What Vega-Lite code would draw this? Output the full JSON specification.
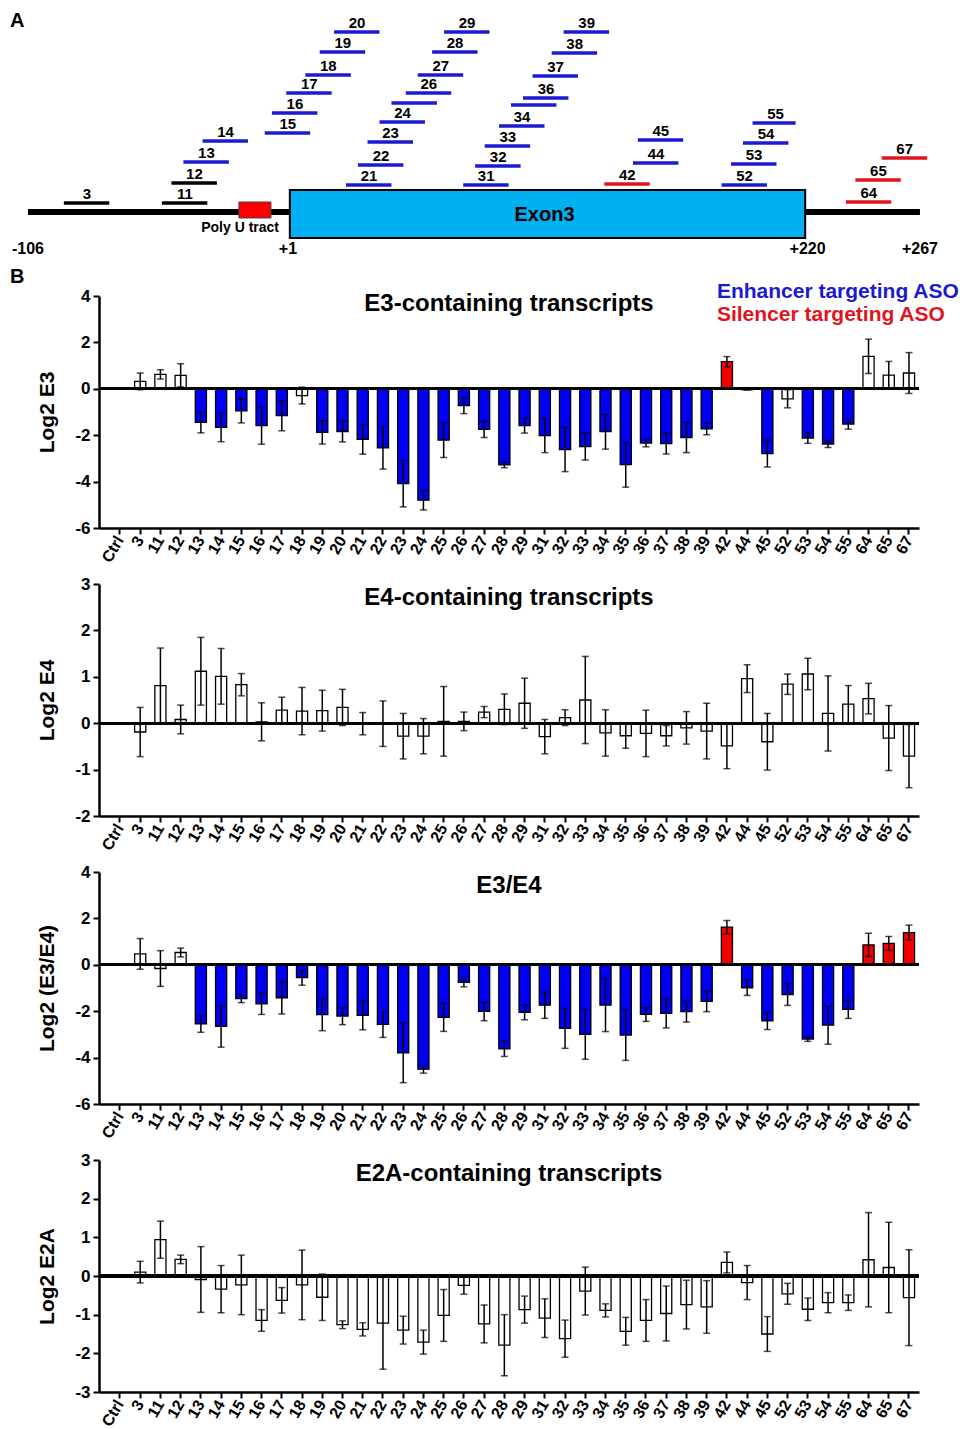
{
  "$schema": "https://vega.github.io/schema/vega-lite/v6.json",
  "padding": {"left": 10, "top": 0, "right": 0, "bottom": 5},
  "background": "white",
  "bounds": "flush",
  "spacing": 56,
  "config": {
    "font": "Liberation Sans",
    "view": {"stroke": null},
    "axis": {"domainColor": "black", "domainWidth": 2.5, "tickColor": "black", "tickWidth": 2, "tickSize": 6, "labelFont": "Liberation Sans", "labelFontWeight": "bold", "labelColor": "black", "titleFont": "Liberation Sans", "titleFontWeight": "bold", "titleColor": "black", "grid": false, "labelOverlap": false},
    "axisY": {"labelFontSize": 17, "titleFontSize": 21, "titlePadding": 17, "labelPadding": 3, "labelExpr": "replace(datum.label, '\u2212', '-')"},
    "axisX": {"labelFontSize": 16, "labelAngle": -60, "labelPadding": 3},
    "title": {"font": "Liberation Sans", "fontSize": 24, "fontWeight": "bold", "color": "black", "offset": -35, "baseline": "middle", "frame": "group", "anchor": "middle"}
  },
  "datasets": {
    "aso": [
      {"x": -91, "x2": -72, "h": 9, "k": "open", "label": "3"},
      {"x": -50, "x2": -31, "h": 9, "k": "open", "label": "11"},
      {"x": -46, "x2": -27, "h": 29, "k": "open", "label": "12"},
      {"x": -41, "x2": -22, "h": 50, "k": "enh", "label": "13"},
      {"x": -33, "x2": -14, "h": 71, "k": "enh", "label": "14"},
      {"x": -7, "x2": 12, "h": 79, "k": "enh", "label": "15"},
      {"x": -4, "x2": 15, "h": 99, "k": "enh", "label": "16"},
      {"x": 2, "x2": 21, "h": 119, "k": "enh", "label": "17"},
      {"x": 10, "x2": 29, "h": 137, "k": "enh", "label": "18"},
      {"x": 16, "x2": 35, "h": 160, "k": "enh", "label": "19"},
      {"x": 22, "x2": 41, "h": 180, "k": "enh", "label": "20"},
      {"x": 27, "x2": 46, "h": 27, "k": "enh", "label": "21"},
      {"x": 32, "x2": 51, "h": 47, "k": "enh", "label": "22"},
      {"x": 36, "x2": 55, "h": 70, "k": "enh", "label": "23"},
      {"x": 41, "x2": 60, "h": 90, "k": "enh", "label": "24"},
      {"x": 46, "x2": 65, "h": 109, "k": "enh", "label": ""},
      {"x": 52, "x2": 71, "h": 119, "k": "enh", "label": "26"},
      {"x": 57, "x2": 76, "h": 137, "k": "enh", "label": "27"},
      {"x": 63, "x2": 82, "h": 160, "k": "enh", "label": "28"},
      {"x": 68, "x2": 87, "h": 180, "k": "enh", "label": "29"},
      {"x": 76, "x2": 95, "h": 27, "k": "enh", "label": "31"},
      {"x": 81, "x2": 100, "h": 46, "k": "enh", "label": "32"},
      {"x": 85, "x2": 104, "h": 66, "k": "enh", "label": "33"},
      {"x": 91, "x2": 110, "h": 86, "k": "enh", "label": "34"},
      {"x": 96, "x2": 115, "h": 107, "k": "enh", "label": ""},
      {"x": 101, "x2": 120, "h": 114, "k": "enh", "label": "36"},
      {"x": 105, "x2": 124, "h": 136, "k": "enh", "label": "37"},
      {"x": 113, "x2": 132, "h": 159, "k": "enh", "label": "38"},
      {"x": 118, "x2": 137, "h": 180, "k": "enh", "label": "39"},
      {"x": 135, "x2": 154, "h": 28, "k": "sil", "label": "42"},
      {"x": 147, "x2": 166, "h": 49, "k": "enh", "label": "44"},
      {"x": 149, "x2": 168, "h": 72, "k": "enh", "label": "45"},
      {"x": 184, "x2": 203, "h": 27, "k": "enh", "label": "52"},
      {"x": 188, "x2": 207, "h": 48, "k": "enh", "label": "53"},
      {"x": 193, "x2": 212, "h": 69, "k": "enh", "label": "54"},
      {"x": 197, "x2": 215, "h": 89, "k": "enh", "label": "55"},
      {"x": 236, "x2": 255, "h": 10, "k": "sil", "label": "64"},
      {"x": 240, "x2": 259, "h": 32, "k": "sil", "label": "65"},
      {"x": 251, "x2": 270, "h": 54, "k": "sil", "label": "67"}
    ],
    "e3": [
      {"c": "Ctrl", "v": 0, "e": 0, "k": "open"},
      {"c": "3", "v": 0.32, "e": 0.36, "k": "open"},
      {"c": "11", "v": 0.62, "e": 0.2, "k": "open"},
      {"c": "12", "v": 0.58, "e": 0.5, "k": "open"},
      {"c": "13", "v": -1.45, "e": 0.45, "k": "enh"},
      {"c": "14", "v": -1.66, "e": 0.62, "k": "enh"},
      {"c": "15", "v": -0.95, "e": 0.52, "k": "enh"},
      {"c": "16", "v": -1.59, "e": 0.8, "k": "enh"},
      {"c": "17", "v": -1.16, "e": 0.65, "k": "enh"},
      {"c": "18", "v": -0.29, "e": 0.36, "k": "open"},
      {"c": "19", "v": -1.88, "e": 0.5, "k": "enh"},
      {"c": "20", "v": -1.84, "e": 0.45, "k": "enh"},
      {"c": "21", "v": -2.18, "e": 0.64, "k": "enh"},
      {"c": "22", "v": -2.54, "e": 0.92, "k": "enh"},
      {"c": "23", "v": -4.09, "e": 1.0, "k": "enh"},
      {"c": "24", "v": -4.8, "e": 0.42, "k": "enh"},
      {"c": "25", "v": -2.21, "e": 0.75, "k": "enh"},
      {"c": "26", "v": -0.72, "e": 0.35, "k": "enh"},
      {"c": "27", "v": -1.75, "e": 0.35, "k": "enh"},
      {"c": "28", "v": -3.28, "e": 0.12, "k": "enh"},
      {"c": "29", "v": -1.59, "e": 0.32, "k": "enh"},
      {"c": "31", "v": -2.02, "e": 0.73, "k": "enh"},
      {"c": "32", "v": -2.62, "e": 0.95, "k": "enh"},
      {"c": "33", "v": -2.49, "e": 0.58, "k": "enh"},
      {"c": "34", "v": -1.85, "e": 0.75, "k": "enh"},
      {"c": "35", "v": -3.27, "e": 0.97, "k": "enh"},
      {"c": "36", "v": -2.34, "e": 0.16, "k": "enh"},
      {"c": "37", "v": -2.36, "e": 0.45, "k": "enh"},
      {"c": "38", "v": -2.1, "e": 0.65, "k": "enh"},
      {"c": "39", "v": -1.73, "e": 0.25, "k": "enh"},
      {"c": "42", "v": 1.17, "e": 0.22, "k": "sil"},
      {"c": "44", "v": -0.04, "e": 0, "k": "enh"},
      {"c": "45", "v": -2.79, "e": 0.58, "k": "enh"},
      {"c": "52", "v": -0.43, "e": 0.39, "k": "open"},
      {"c": "53", "v": -2.12, "e": 0.23, "k": "enh"},
      {"c": "54", "v": -2.38, "e": 0.15, "k": "enh"},
      {"c": "55", "v": -1.52, "e": 0.22, "k": "enh"},
      {"c": "64", "v": 1.4, "e": 0.74, "k": "open"},
      {"c": "65", "v": 0.59, "e": 0.59, "k": "open"},
      {"c": "67", "v": 0.68, "e": 0.88, "k": "open"}
    ],
    "e4": [
      {"c": "Ctrl", "v": 0, "e": 0, "k": "open"},
      {"c": "3", "v": -0.19, "e": 0.53, "k": "open"},
      {"c": "11", "v": 0.81, "e": 0.81, "k": "open"},
      {"c": "12", "v": 0.08, "e": 0.31, "k": "open"},
      {"c": "13", "v": 1.12, "e": 0.73, "k": "open"},
      {"c": "14", "v": 1.01, "e": 0.6, "k": "open"},
      {"c": "15", "v": 0.83, "e": 0.24, "k": "open"},
      {"c": "16", "v": 0.03, "e": 0.41, "k": "open"},
      {"c": "17", "v": 0.28, "e": 0.28, "k": "open"},
      {"c": "18", "v": 0.26, "e": 0.51, "k": "open"},
      {"c": "19", "v": 0.27, "e": 0.44, "k": "open"},
      {"c": "20", "v": 0.34, "e": 0.39, "k": "open"},
      {"c": "21", "v": -0.01, "e": 0.24, "k": "open"},
      {"c": "22", "v": -0.01, "e": 0.49, "k": "open"},
      {"c": "23", "v": -0.28, "e": 0.49, "k": "open"},
      {"c": "24", "v": -0.28, "e": 0.38, "k": "open"},
      {"c": "25", "v": 0.04, "e": 0.75, "k": "open"},
      {"c": "26", "v": 0.04, "e": 0.2, "k": "open"},
      {"c": "27", "v": 0.24, "e": 0.12, "k": "open"},
      {"c": "28", "v": 0.3, "e": 0.33, "k": "open"},
      {"c": "29", "v": 0.43, "e": 0.54, "k": "open"},
      {"c": "31", "v": -0.29, "e": 0.37, "k": "open"},
      {"c": "32", "v": 0.12, "e": 0.17, "k": "open"},
      {"c": "33", "v": 0.5, "e": 0.94, "k": "open"},
      {"c": "34", "v": -0.21, "e": 0.5, "k": "open"},
      {"c": "35", "v": -0.27, "e": 0.27, "k": "open"},
      {"c": "36", "v": -0.22, "e": 0.5, "k": "open"},
      {"c": "37", "v": -0.27, "e": 0.22, "k": "open"},
      {"c": "38", "v": -0.1, "e": 0.35, "k": "open"},
      {"c": "39", "v": -0.17, "e": 0.6, "k": "open"},
      {"c": "42", "v": -0.49, "e": 0.49, "k": "open"},
      {"c": "44", "v": 0.96, "e": 0.3, "k": "open"},
      {"c": "45", "v": -0.4, "e": 0.61, "k": "open"},
      {"c": "52", "v": 0.84, "e": 0.22, "k": "open"},
      {"c": "53", "v": 1.06, "e": 0.34, "k": "open"},
      {"c": "54", "v": 0.21, "e": 0.81, "k": "open"},
      {"c": "55", "v": 0.41, "e": 0.4, "k": "open"},
      {"c": "64", "v": 0.53, "e": 0.33, "k": "open"},
      {"c": "65", "v": -0.32, "e": 0.7, "k": "open"},
      {"c": "67", "v": -0.71, "e": 0.68, "k": "open"}
    ],
    "ratio": [
      {"c": "Ctrl", "v": 0, "e": 0, "k": "open"},
      {"c": "3", "v": 0.47, "e": 0.66, "k": "open"},
      {"c": "11", "v": -0.16, "e": 0.77, "k": "open"},
      {"c": "12", "v": 0.53, "e": 0.19, "k": "open"},
      {"c": "13", "v": -2.55, "e": 0.36, "k": "enh"},
      {"c": "14", "v": -2.65, "e": 0.9, "k": "enh"},
      {"c": "15", "v": -1.46, "e": 0.17, "k": "enh"},
      {"c": "16", "v": -1.68, "e": 0.46, "k": "enh"},
      {"c": "17", "v": -1.42, "e": 0.7, "k": "enh"},
      {"c": "18", "v": -0.55, "e": 0.33, "k": "enh"},
      {"c": "19", "v": -2.15, "e": 0.69, "k": "enh"},
      {"c": "20", "v": -2.21, "e": 0.37, "k": "enh"},
      {"c": "21", "v": -2.18, "e": 0.62, "k": "enh"},
      {"c": "22", "v": -2.57, "e": 0.56, "k": "enh"},
      {"c": "23", "v": -3.8, "e": 1.28, "k": "enh"},
      {"c": "24", "v": -4.5, "e": 0.17, "k": "enh"},
      {"c": "25", "v": -2.27, "e": 0.6, "k": "enh"},
      {"c": "26", "v": -0.76, "e": 0.19, "k": "enh"},
      {"c": "27", "v": -2.01, "e": 0.4, "k": "enh"},
      {"c": "28", "v": -3.62, "e": 0.33, "k": "enh"},
      {"c": "29", "v": -2.05, "e": 0.32, "k": "enh"},
      {"c": "31", "v": -1.74, "e": 0.57, "k": "enh"},
      {"c": "32", "v": -2.74, "e": 0.86, "k": "enh"},
      {"c": "33", "v": -3.0, "e": 1.07, "k": "enh"},
      {"c": "34", "v": -1.74, "e": 1.14, "k": "enh"},
      {"c": "35", "v": -3.03, "e": 1.09, "k": "enh"},
      {"c": "36", "v": -2.14, "e": 0.3, "k": "enh"},
      {"c": "37", "v": -2.09, "e": 0.63, "k": "enh"},
      {"c": "38", "v": -2.02, "e": 0.45, "k": "enh"},
      {"c": "39", "v": -1.58, "e": 0.44, "k": "enh"},
      {"c": "42", "v": 1.62, "e": 0.29, "k": "sil"},
      {"c": "44", "v": -0.99, "e": 0.33, "k": "enh"},
      {"c": "45", "v": -2.42, "e": 0.37, "k": "enh"},
      {"c": "52", "v": -1.28, "e": 0.47, "k": "enh"},
      {"c": "53", "v": -3.2, "e": 0.1, "k": "enh"},
      {"c": "54", "v": -2.6, "e": 0.82, "k": "enh"},
      {"c": "55", "v": -1.92, "e": 0.39, "k": "enh"},
      {"c": "64", "v": 0.86, "e": 0.5, "k": "sil"},
      {"c": "65", "v": 0.92, "e": 0.3, "k": "sil"},
      {"c": "67", "v": 1.39, "e": 0.32, "k": "sil"}
    ],
    "e2a": [
      {"c": "Ctrl", "v": 0, "e": 0, "k": "open"},
      {"c": "3", "v": 0.1, "e": 0.28, "k": "open"},
      {"c": "11", "v": 0.94, "e": 0.48, "k": "open"},
      {"c": "12", "v": 0.43, "e": 0.11, "k": "open"},
      {"c": "13", "v": -0.09, "e": 0.85, "k": "open"},
      {"c": "14", "v": -0.34, "e": 0.61, "k": "open"},
      {"c": "15", "v": -0.23, "e": 0.77, "k": "open"},
      {"c": "16", "v": -1.15, "e": 0.28, "k": "open"},
      {"c": "17", "v": -0.63, "e": 0.33, "k": "open"},
      {"c": "18", "v": -0.23, "e": 0.9, "k": "open"},
      {"c": "19", "v": -0.55, "e": 0.6, "k": "open"},
      {"c": "20", "v": -1.26, "e": 0.1, "k": "open"},
      {"c": "21", "v": -1.38, "e": 0.17, "k": "open"},
      {"c": "22", "v": -1.22, "e": 1.19, "k": "open"},
      {"c": "23", "v": -1.4, "e": 0.36, "k": "open"},
      {"c": "24", "v": -1.71, "e": 0.31, "k": "open"},
      {"c": "25", "v": -1.02, "e": 0.67, "k": "open"},
      {"c": "26", "v": -0.24, "e": 0.23, "k": "open"},
      {"c": "27", "v": -1.24, "e": 0.49, "k": "open"},
      {"c": "28", "v": -1.79, "e": 0.79, "k": "open"},
      {"c": "29", "v": -0.87, "e": 0.35, "k": "open"},
      {"c": "31", "v": -1.09, "e": 0.5, "k": "open"},
      {"c": "32", "v": -1.62, "e": 0.48, "k": "open"},
      {"c": "33", "v": -0.39, "e": 0.62, "k": "open"},
      {"c": "34", "v": -0.89, "e": 0.17, "k": "open"},
      {"c": "35", "v": -1.43, "e": 0.36, "k": "open"},
      {"c": "36", "v": -1.15, "e": 0.54, "k": "open"},
      {"c": "37", "v": -0.97, "e": 0.71, "k": "open"},
      {"c": "38", "v": -0.74, "e": 0.63, "k": "open"},
      {"c": "39", "v": -0.8, "e": 0.68, "k": "open"},
      {"c": "42", "v": 0.35, "e": 0.27, "k": "open"},
      {"c": "44", "v": -0.17, "e": 0.44, "k": "open"},
      {"c": "45", "v": -1.5, "e": 0.45, "k": "open"},
      {"c": "52", "v": -0.46, "e": 0.27, "k": "open"},
      {"c": "53", "v": -0.86, "e": 0.29, "k": "open"},
      {"c": "54", "v": -0.69, "e": 0.26, "k": "open"},
      {"c": "55", "v": -0.69, "e": 0.2, "k": "open"},
      {"c": "64", "v": 0.42, "e": 1.22, "k": "open"},
      {"c": "65", "v": 0.22, "e": 1.17, "k": "open"},
      {"c": "67", "v": -0.56, "e": 1.24, "k": "open"}
    ]
  },
  "vconcat": [
    {
      "width": 820,
      "height": 240,
      "encoding": {
        "x": {"field": "x", "type": "quantitative", "scale": {"domain": [-76.3, 266.6], "nice": false, "zero": false}, "axis": null},
        "y": {"field": "h", "type": "quantitative", "scale": {"domain": [-28, 212], "nice": false, "zero": false}, "axis": null}
      },
      "layer": [
        {"data": {"values": [{"x": -106, "x2": 267, "h": 0}]}, "mark": {"type": "rule", "strokeWidth": 6, "color": "black"}, "encoding": {"x2": {"field": "x2"}}},
        {"data": {"values": [{"x": 3.5, "x2": 219, "h": 22, "h2": -26}]}, "mark": {"type": "rect", "fill": "#00b0f0", "stroke": "black", "strokeWidth": 2}, "encoding": {"x2": {"field": "x2"}, "y2": {"field": "h2"}}},
        {"data": {"values": [{"x": -17.8, "x2": -4.4, "h": 10, "h2": -6}]}, "mark": {"type": "rect", "fill": "#ff0000", "stroke": "#444444", "strokeWidth": 1}, "encoding": {"x2": {"field": "x2"}, "y2": {"field": "h2"}}},
        {"data": {"name": "aso"}, "mark": {"type": "rule", "strokeWidth": 3.5, "strokeCap": "butt"}, "encoding": {"x2": {"field": "x2"}, "color": {"field": "k", "type": "nominal", "scale": {"domain": ["open", "enh", "sil"], "range": ["black", "#1a1ad2", "#e0141c"]}, "legend": null}}},
        {"data": {"name": "aso"}, "mark": {"type": "text", "fontSize": 15, "fontWeight": "bold", "font": "Liberation Sans", "color": "black", "align": "center", "baseline": "alphabetic", "dx": 23, "dy": -4}, "encoding": {"text": {"field": "label"}}},
        {"data": {"values": [{"x": 110, "h": -3, "t": "Exon3"}]}, "mark": {"type": "text", "fontSize": 20, "fontWeight": "bold", "font": "Liberation Sans", "color": "black", "baseline": "middle"}, "encoding": {"text": {"field": "t"}}},
        {"data": {"values": [{"x": -17.3, "h": -16, "t": "Poly U tract"}]}, "mark": {"type": "text", "fontSize": 14, "fontWeight": "bold", "font": "Liberation Sans", "color": "black", "baseline": "middle"}, "encoding": {"text": {"field": "t"}}},
        {"data": {"values": [{"x": -106, "h": -37, "t": "-106"}, {"x": 2.7, "h": -37, "t": "+1"}, {"x": 220, "h": -37, "t": "+220"}, {"x": 267, "h": -37, "t": "+267"}]}, "mark": {"type": "text", "fontSize": 16, "fontWeight": "bold", "font": "Liberation Sans", "color": "black", "baseline": "middle"}, "encoding": {"text": {"field": "t"}}},
        {"data": {"values": [{"x": -113.5, "h": 191, "t": "A"}, {"x": -113.5, "h": -65, "t": "B"}]}, "mark": {"type": "text", "fontSize": 20, "fontWeight": "bold", "font": "Liberation Sans", "color": "black", "align": "left", "baseline": "middle"}, "encoding": {"text": {"field": "t"}}}
      ]
    },
    {
      "width": 820,
      "height": 232,
      "title": {"text": "E3-containing transcripts"},
      "data": {"name": "e3"},
      "encoding": {
        "x": {"field": "c", "type": "nominal", "title": null, "scale": {"domain": ["Ctrl","3","11","12","13","14","15","16","17","18","19","20","21","22","23","24","25","26","27","28","29","31","32","33","34","35","36","37","38","39","42","44","45","52","53","54","55","64","65","67"], "paddingInner": 0.45, "paddingOuter": 0.49, "align": 0.776}}
      },
      "layer": [
        {"mark": {"type": "bar", "stroke": "black", "strokeWidth": 1.3}, "encoding": {"y": {"field": "v", "type": "quantitative", "title": "Log2 E3", "scale": {"domain": [-6, 4], "nice": false}, "axis": {"values": [-6, -4, -2, 0, 2, 4]}}, "fill": {"field": "k", "type": "nominal", "scale": {"domain": ["open", "enh", "sil"], "range": ["white", "#0000f5", "#f50000"]}, "legend": null}}},
        {"mark": {"type": "errorbar", "ticks": true, "size": 7, "thickness": 1.5, "color": "black"}, "encoding": {"y": {"field": "v", "type": "quantitative", "title": "Log2 E3", "axis": {"values": [-6, -4, -2, 0, 2, 4]}}, "yError": {"field": "e"}}},
        {"mark": {"type": "rule", "strokeWidth": 2.5, "color": "black"}, "encoding": {"x": null, "y": {"datum": 0, "axis": {"values": [-6, -4, -2, 0, 2, 4]}}}},
        {"data": {"values": [{"t": "Enhancer targeting ASO", "k": "enh", "y": 4.17}, {"t": "Silencer targeting ASO", "k": "sil", "y": 3.2}]}, "mark": {"type": "text", "fontSize": 21, "fontWeight": "bold", "font": "Liberation Sans", "align": "left", "baseline": "middle", "dx": -10}, "encoding": {"x": {"datum": "42"}, "y": {"field": "y", "type": "quantitative", "axis": {"values": [-6, -4, -2, 0, 2, 4]}}, "text": {"field": "t"}, "color": {"field": "k", "type": "nominal", "scale": {"domain": ["open", "enh", "sil"], "range": ["black", "#1a1ad2", "#e0141c"]}, "legend": null}}}
      ]
    },
    {
      "width": 820,
      "height": 232,
      "title": {"text": "E4-containing transcripts"},
      "data": {"name": "e4"},
      "encoding": {
        "x": {"field": "c", "type": "nominal", "title": null, "scale": {"domain": ["Ctrl","3","11","12","13","14","15","16","17","18","19","20","21","22","23","24","25","26","27","28","29","31","32","33","34","35","36","37","38","39","42","44","45","52","53","54","55","64","65","67"], "paddingInner": 0.45, "paddingOuter": 0.49, "align": 0.776}}
      },
      "layer": [
        {"mark": {"type": "bar", "stroke": "black", "strokeWidth": 1.3}, "encoding": {"y": {"field": "v", "type": "quantitative", "title": "Log2 E4", "scale": {"domain": [-2, 3], "nice": false}, "axis": {"values": [-2, -1, 0, 1, 2, 3]}}, "fill": {"field": "k", "type": "nominal", "scale": {"domain": ["open", "enh", "sil"], "range": ["white", "#0000f5", "#f50000"]}, "legend": null}}},
        {"mark": {"type": "errorbar", "ticks": true, "size": 7, "thickness": 1.5, "color": "black"}, "encoding": {"y": {"field": "v", "type": "quantitative", "title": "Log2 E4", "axis": {"values": [-2, -1, 0, 1, 2, 3]}}, "yError": {"field": "e"}}},
        {"mark": {"type": "rule", "strokeWidth": 2.5, "color": "black"}, "encoding": {"x": null, "y": {"datum": 0, "axis": {"values": [-2, -1, 0, 1, 2, 3]}}}}
      ]
    },
    {
      "width": 820,
      "height": 232,
      "title": {"text": "E3/E4"},
      "data": {"name": "ratio"},
      "encoding": {
        "x": {"field": "c", "type": "nominal", "title": null, "scale": {"domain": ["Ctrl","3","11","12","13","14","15","16","17","18","19","20","21","22","23","24","25","26","27","28","29","31","32","33","34","35","36","37","38","39","42","44","45","52","53","54","55","64","65","67"], "paddingInner": 0.45, "paddingOuter": 0.49, "align": 0.776}}
      },
      "layer": [
        {"mark": {"type": "bar", "stroke": "black", "strokeWidth": 1.3}, "encoding": {"y": {"field": "v", "type": "quantitative", "title": "Log2 (E3/E4)", "scale": {"domain": [-6, 4], "nice": false}, "axis": {"values": [-6, -4, -2, 0, 2, 4]}}, "fill": {"field": "k", "type": "nominal", "scale": {"domain": ["open", "enh", "sil"], "range": ["white", "#0000f5", "#f50000"]}, "legend": null}}},
        {"mark": {"type": "errorbar", "ticks": true, "size": 7, "thickness": 1.5, "color": "black"}, "encoding": {"y": {"field": "v", "type": "quantitative", "title": "Log2 (E3/E4)", "axis": {"values": [-6, -4, -2, 0, 2, 4]}}, "yError": {"field": "e"}}},
        {"mark": {"type": "rule", "strokeWidth": 2.5, "color": "black"}, "encoding": {"x": null, "y": {"datum": 0, "axis": {"values": [-6, -4, -2, 0, 2, 4]}}}}
      ]
    },
    {
      "width": 820,
      "height": 232,
      "title": {"text": "E2A-containing transcripts"},
      "data": {"name": "e2a"},
      "encoding": {
        "x": {"field": "c", "type": "nominal", "title": null, "scale": {"domain": ["Ctrl","3","11","12","13","14","15","16","17","18","19","20","21","22","23","24","25","26","27","28","29","31","32","33","34","35","36","37","38","39","42","44","45","52","53","54","55","64","65","67"], "paddingInner": 0.45, "paddingOuter": 0.49, "align": 0.776}}
      },
      "layer": [
        {"mark": {"type": "bar", "stroke": "black", "strokeWidth": 1.3}, "encoding": {"y": {"field": "v", "type": "quantitative", "title": "Log2 E2A", "scale": {"domain": [-3, 3], "nice": false}, "axis": {"values": [-3, -2, -1, 0, 1, 2, 3]}}, "fill": {"field": "k", "type": "nominal", "scale": {"domain": ["open", "enh", "sil"], "range": ["white", "#0000f5", "#f50000"]}, "legend": null}}},
        {"mark": {"type": "errorbar", "ticks": true, "size": 7, "thickness": 1.5, "color": "black"}, "encoding": {"y": {"field": "v", "type": "quantitative", "title": "Log2 E2A", "axis": {"values": [-3, -2, -1, 0, 1, 2, 3]}}, "yError": {"field": "e"}}},
        {"mark": {"type": "rule", "strokeWidth": 2.5, "color": "black"}, "encoding": {"x": null, "y": {"datum": 0, "axis": {"values": [-3, -2, -1, 0, 1, 2, 3]}}}}
      ]
    }
  ]
}
